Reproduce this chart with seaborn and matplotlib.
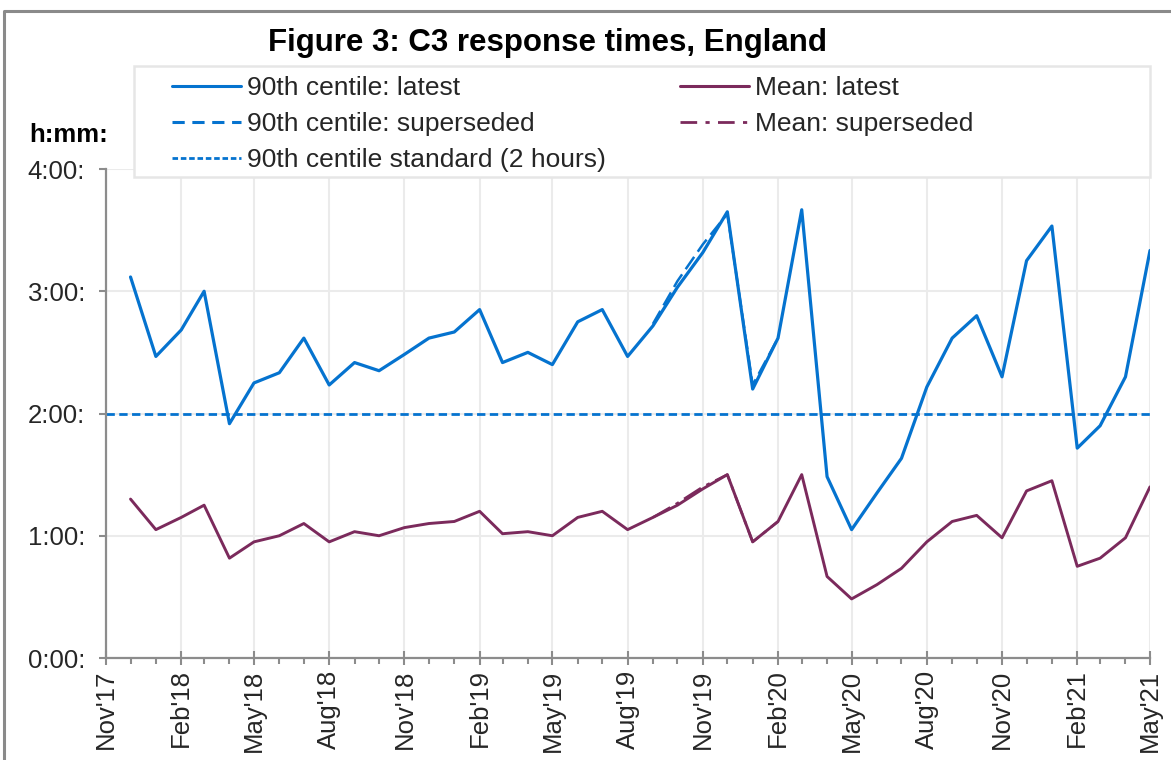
import numpy as np
import pandas as pd
import matplotlib
matplotlib.use("Agg")
import matplotlib.pyplot as plt
import matplotlib.dates as mdates
from matplotlib.lines import Line2D
from matplotlib.patches import Rectangle
from matplotlib.ticker import FuncFormatter, MultipleLocator
import seaborn as sns

# Monthly C3 response times, in minutes (Dec 2017 - May 2021)
months = pd.date_range("2017-12-01", "2021-05-01", freq="MS")

centile90_latest = [
    187, 148, 161, 180, 115, 135, 140, 157, 134, 145, 141, 149, 157,
    160, 171, 145, 150, 144, 165, 171, 148, 163, 182, 199, 219,
    132, 157, 220, 89, 63, 81, 98, 133, 157, 168, 138, 195,
    212, 103, 114, 138, 200,
]
mean_latest = [
    78, 63, 69, 75, 49, 57, 60, 66, 57, 62, 60, 64, 66,
    67, 72, 61, 62, 60, 69, 72, 63, 69, 75, 83, 90,
    57, 67, 90, 40, 29, 36, 44, 57, 67, 70, 59, 82,
    87, 45, 49, 59, 84,
]

# Earlier published figures for Sep 2019 - Feb 2020
superseded_months = pd.date_range("2019-09-01", "2020-02-01", freq="MS")
centile90_superseded = [164, 185, 203, 218, 134, 157]
mean_superseded = [69, 76, 84, 90, 57, 67]

standard_minutes = 120  # 90th centile standard (2 hours)

x_start, x_end = pd.Timestamp("2017-11-01"), pd.Timestamp("2021-05-01")

blue = "#0573CF"
maroon = "#7B2A5C"
axis_grey = "#8C8C8C"
grid_grey = "#EBEBEB"

sns.set_theme(style="white")
plt.rcParams["font.family"] = ["Liberation Sans", "DejaVu Sans"]
plt.rcParams["font.size"] = 18.5

W, H = 1171, 760
fig = plt.figure(figsize=(W / 100, H / 100), dpi=100)
fig.patch.set_facecolor("white")

left, right, top, bottom = 106, 1150, 169, 658
ax = fig.add_axes([left / W, 1 - bottom / H, (right - left) / W, (bottom - top) / H])

# Series
sns.lineplot(x=months, y=centile90_latest, ax=ax, color=blue, lw=2.3, zorder=3)
sns.lineplot(x=months, y=mean_latest, ax=ax, color=maroon, lw=2.1, zorder=3)
sns.lineplot(x=superseded_months, y=centile90_superseded, ax=ax, color=blue,
             lw=1.8, zorder=3, linestyle=(0, (6, 2.5)))
sns.lineplot(x=superseded_months, y=mean_superseded, ax=ax, color=maroon,
             lw=1.8, zorder=3, linestyle=(0, (8, 2.5, 1.5, 2.5)))
ax.axhline(standard_minutes, color=blue, lw=2.0, linestyle=(0, (3, 1.6)), zorder=2.5)

# Axes limits and ticks
ax.set_xlim(x_start, x_end)
ax.set_ylim(0, 240)
ax.yaxis.set_major_locator(MultipleLocator(60))
ax.yaxis.set_major_formatter(FuncFormatter(lambda v, _: f"{int(v // 60)}:{int(v % 60):02d}:"))
ax.xaxis.set_major_locator(mdates.MonthLocator(bymonth=[2, 5, 8, 11]))
ax.xaxis.set_minor_locator(mdates.MonthLocator())
ax.xaxis.set_major_formatter(mdates.DateFormatter("%b'%y"))
plt.setp(ax.get_xticklabels(), rotation=90, ha="center", va="top")

ax.tick_params(axis="x", which="major", direction="inout", length=10.5, width=1.5,
               color=axis_grey, pad=3, labelsize=18.5, bottom=True)
ax.tick_params(axis="x", which="minor", direction="out", length=4, width=1.5,
               color=axis_grey, bottom=True)
ax.tick_params(axis="y", which="major", direction="out", length=5, width=1.5,
               color=axis_grey, pad=10, labelsize=18.5, left=True)

ax.grid(True, which="major", color=grid_grey, lw=1.5, zorder=0)
ax.set_axisbelow(True)
for side in ("top", "right"):
    ax.spines[side].set_visible(False)
for side in ("left", "bottom"):
    ax.spines[side].set_color(axis_grey)
    ax.spines[side].set_linewidth(1.6)
ax.set_xlabel("")
ax.set_ylabel("")

# Legend box
box = Rectangle((134 / W, 1 - 177 / H), (1150 - 134) / W, (177 - 66) / H,
                transform=fig.transFigure, facecolor="white", edgecolor="#E6E6E6",
                lw=1.8, zorder=5, clip_on=False)
ax.add_artist(box)

handles = [
    Line2D([], [], color=blue, lw=2.2),
    Line2D([], [], color=blue, lw=2.2, linestyle=(0, (4, 2.5))),
    Line2D([], [], color=blue, lw=2.0, linestyle=(0, (2, 1))),
    Line2D([], [], color=maroon, lw=2.2),
    Line2D([], [], color=maroon, lw=2.0, linestyle=(0, (6, 3, 1.5, 3))),
]
labels = [
    "90th centile: latest",
    "90th centile: superseded",
    "90th centile standard (2 hours)",
    "Mean: latest",
    "Mean: superseded",
]
leg = ax.legend(handles, labels, ncol=2, frameon=False, loc="upper left",
                bbox_to_anchor=(172 / W, 1 - 76 / H), bbox_transform=fig.transFigure,
                borderpad=0, borderaxespad=0, handlelength=2.6, handletextpad=0.25,
                columnspacing=2.8, labelspacing=0.46, fontsize=19)
leg.set_zorder(6)

# Titles and unit label
fig.text(547 / W, 1 - 43 / H, "Figure 3: C3 response times, England",
         ha="center", va="center", fontsize=22.5, fontweight="bold", color="black")
fig.text(108 / W, 1 - 135 / H, "h:mm:", ha="right", va="center",
         fontsize=18.5, fontweight="bold", color="black")

# Outer chart border
fig.add_artist(Line2D([4 / W, 4 / W, 1.0], [0.0, 1 - 11 / H, 1 - 11 / H],
                      transform=fig.transFigure, color="#8A8A8A", lw=2.2))

fig.savefig("out.png", dpi=100)
